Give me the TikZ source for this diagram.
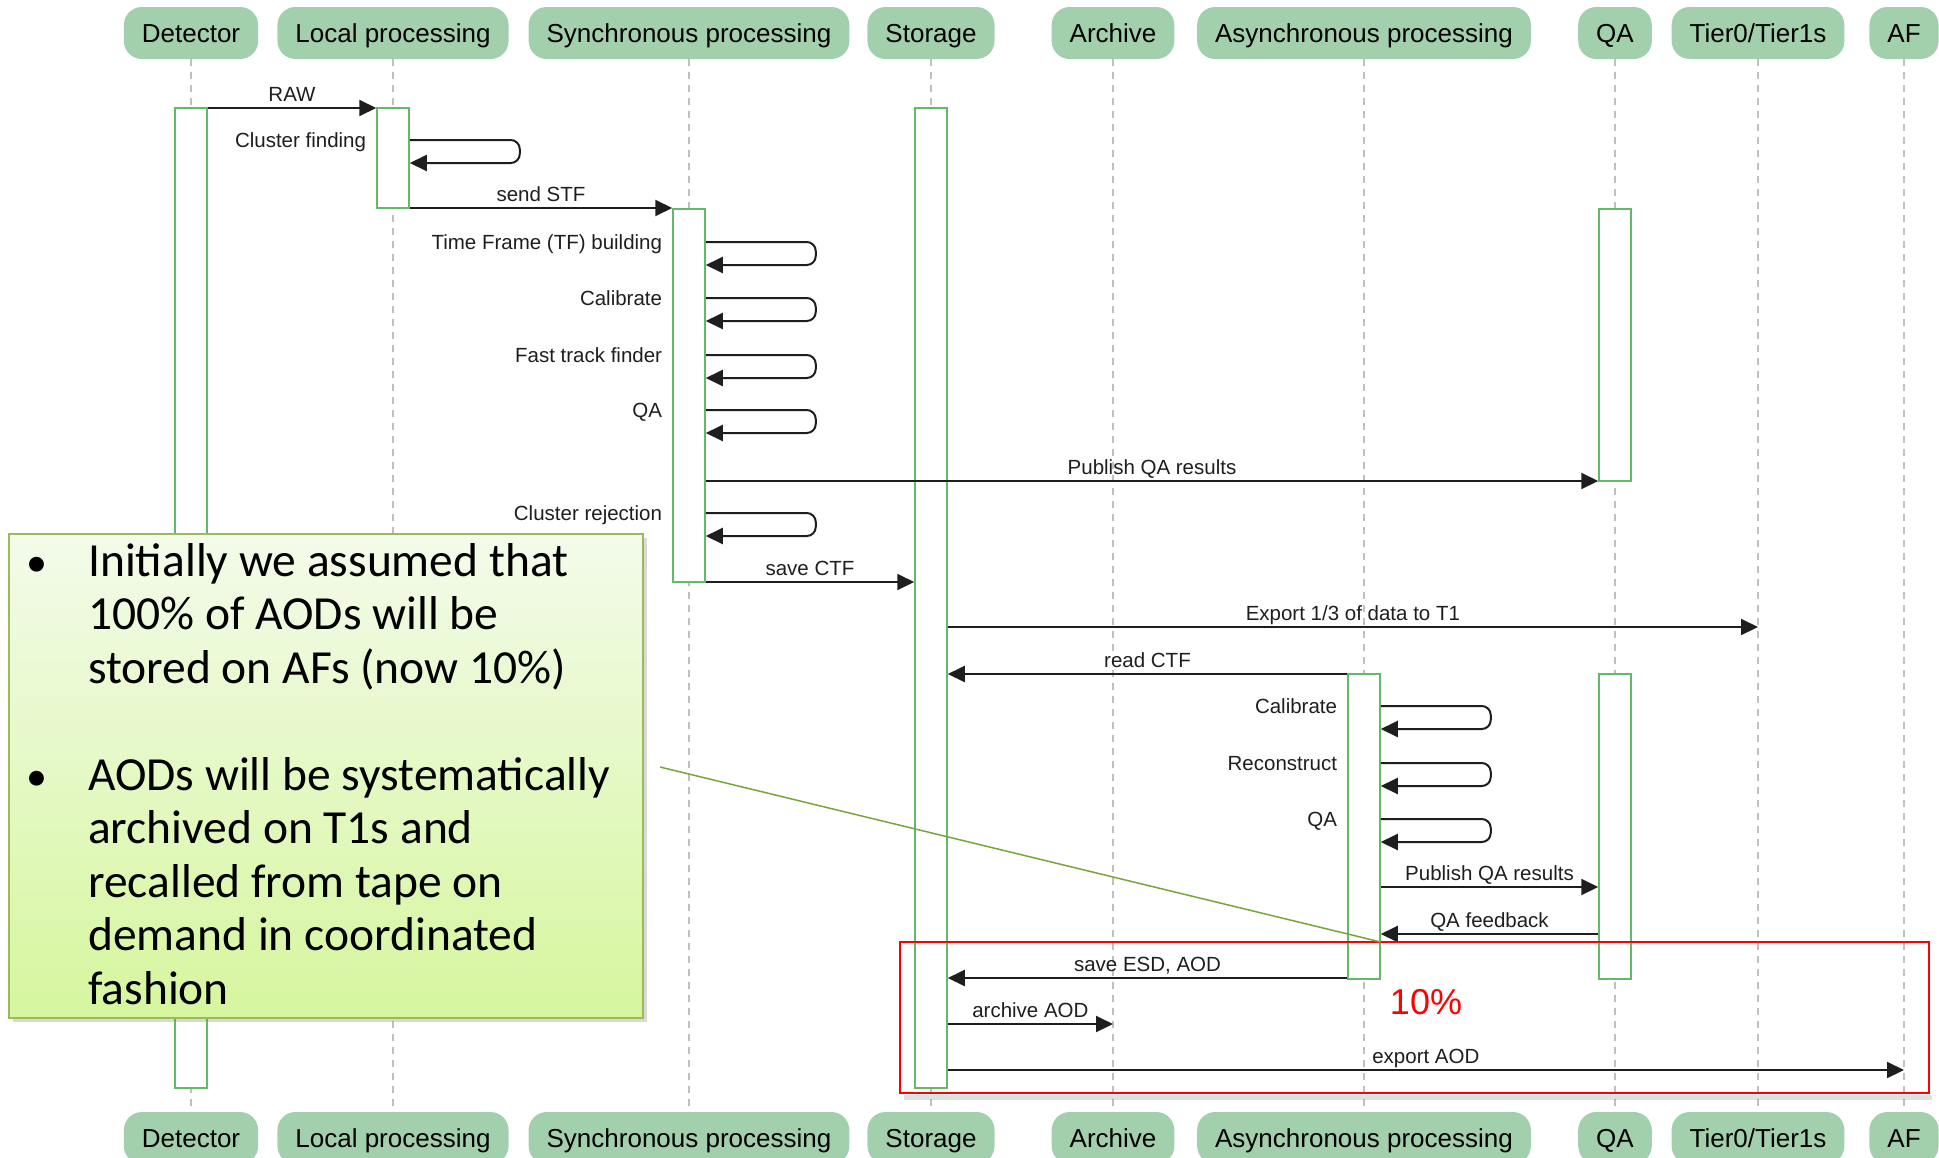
\documentclass[tikz,border=0pt]{standalone}
\usepackage{fontspec}
\setmainfont{Liberation Sans}
\newfontfamily\calibrifont{Carlito}
\usetikzlibrary{arrows.meta,shadows}
\definecolor{headfill}{RGB}{163,208,172}
\definecolor{actgreen}{RGB}{100,185,104}
\definecolor{lifegray}{RGB}{192,192,192}
\definecolor{msgcol}{RGB}{30,30,30}
\definecolor{calltop}{RGB}{243,251,234}
\definecolor{callbot}{RGB}{214,246,158}
\definecolor{callborder}{RGB}{155,187,89}
\definecolor{pointercol}{RGB}{118,166,58}
\begin{document}
\begin{tikzpicture}[x=1pt,y=-1pt,
  head/.style={fill=headfill, rounded corners=18pt, minimum height=52pt, inner xsep=18pt, inner ysep=0pt, text height=23pt, text depth=5pt, font=\fontsize{26}{30}\selectfont},
  life/.style={draw=lifegray, line width=1.2pt, dash pattern=on 7pt off 6pt},
  act/.style={draw=actgreen, fill=white, line width=1.5pt, minimum width=32pt, inner sep=0pt},
  msg/.style={draw=msgcol, line width=2pt, -{Triangle[length=17pt,width=16pt]}},
  selfloop/.style={msg, rounded corners=9pt},
  lbl/.style={font=\fontsize{20.5}{24}\selectfont, inner sep=0pt, text=msgcol},
  mlbl/.style={lbl, anchor=base, yshift=7pt},
  note/.style={font=\calibrifont\fontsize{47.5}{53.5}\selectfont, inner sep=0pt, anchor=base west},
  bullet/.style={font=\calibrifont\fontsize{42}{53.5}\selectfont, inner sep=0pt, anchor=base},
]
\useasboundingbox (0,0) rectangle (1939,1157);
\clip (0,0) rectangle (1939,1157);

% heads (top and bottom) and lifelines
\node[head] (hDet) at (191,33) {Detector};
\node[head] (hLoc) at (393,33) {Local processing};
\node[head] (hSyn) at (689,33) {Synchronous processing};
\node[head] (hSto) at (931,33) {Storage};
\node[head] (hArc) at (1113,33) {Archive};
\node[head] (hAsy) at (1364,33) {Asynchronous processing};
\node[head] (hQA)  at (1615,33) {QA};
\node[head] (hTie) at (1758,33) {Tier0/Tier1s};
\node[head] (hAF)  at (1904,33) {AF};
\node[head] (bDet) at (191,1138) {Detector};
\node[head] (bLoc) at (393,1138) {Local processing};
\node[head] (bSyn) at (689,1138) {Synchronous processing};
\node[head] (bSto) at (931,1138) {Storage};
\node[head] (bArc) at (1113,1138) {Archive};
\node[head] (bAsy) at (1364,1138) {Asynchronous processing};
\node[head] (bQA)  at (1615,1138) {QA};
\node[head] (bTie) at (1758,1138) {Tier0/Tier1s};
\node[head] (bAF)  at (1904,1138) {AF};
\foreach \n in {Det,Loc,Syn,Sto,Arc,Asy,QA,Tie,AF}{
  \draw[life] (h\n.south) -- (b\n.north);
}

% activation boxes
\node[act, minimum height=980pt] (aDet) at (191,598) {};
\node[act, minimum height=100pt] (aLoc) at (393,158) {};
\node[act, minimum height=373pt] (aSyn) at (689,395.5) {};
\node[act, minimum height=980pt] (aSto) at (931,598) {};
\node[act, minimum height=272pt] (aQA1) at (1615,345) {};
\node[act, minimum height=305pt] (aAsy) at (1364,826.5) {};
\node[act, minimum height=305pt] (aQA2) at (1615,826.5) {};

% messages
\draw[msg] (aDet.east |- 0,108) -- node[mlbl] {RAW} (aLoc.west |- 0,108);
\draw[selfloop] (aLoc.east |- 0,140) -- ++(110,0) -- ++(0,23) -- (aLoc.east |- 0,163);
\node[lbl, anchor=base east] (lCF) at ([xshift=-10pt]aLoc.west |- 0,147) {Cluster finding};
\draw[msg] (aLoc.east |- 0,208) -- node[mlbl] {send STF} (aSyn.west |- 0,208);

\draw[selfloop] (aSyn.east |- 0,242) -- ++(110,0) -- ++(0,23) -- (aSyn.east |- 0,265);
\node[lbl, anchor=base east] (lTF) at ([xshift=-10pt]aSyn.west |- 0,249) {Time Frame (TF) building};
\draw[selfloop] (aSyn.east |- 0,298) -- ++(110,0) -- ++(0,23) -- (aSyn.east |- 0,321);
\node[lbl, anchor=base east] (lCal) at ([xshift=-10pt]aSyn.west |- 0,305) {Calibrate};
\draw[selfloop] (aSyn.east |- 0,355) -- ++(110,0) -- ++(0,23) -- (aSyn.east |- 0,378);
\node[lbl, anchor=base east] (lFTF) at ([xshift=-10pt]aSyn.west |- 0,362) {Fast track finder};
\draw[selfloop] (aSyn.east |- 0,410) -- ++(110,0) -- ++(0,23) -- (aSyn.east |- 0,433);
\node[lbl, anchor=base east] (lQA) at ([xshift=-10pt]aSyn.west |- 0,417) {QA};
\draw[msg] (aSyn.east |- 0,481) -- node[mlbl] {Publish QA results} (aQA1.west |- 0,481);
\draw[selfloop] (aSyn.east |- 0,513) -- ++(110,0) -- ++(0,23) -- (aSyn.east |- 0,536);
\node[lbl, anchor=base east] (lCR) at ([xshift=-10pt]aSyn.west |- 0,520) {Cluster rejection};
\draw[msg] (aSyn.east |- 0,582) -- node[mlbl] {save CTF} (aSto.west |- 0,582);

\draw[msg] (aSto.east |- 0,627) -- node[mlbl] {Export 1/3 of data to T1} (hTie.south |- 0,627);
\draw[msg] (aAsy.west |- 0,674) -- node[mlbl] {read CTF} (aSto.east |- 0,674);

\draw[selfloop] (aAsy.east |- 0,706) -- ++(110,0) -- ++(0,23) -- (aAsy.east |- 0,729);
\node[lbl, anchor=base east] (lCal2) at ([xshift=-10pt]aAsy.west |- 0,713) {Calibrate};
\draw[selfloop] (aAsy.east |- 0,763) -- ++(110,0) -- ++(0,23) -- (aAsy.east |- 0,786);
\node[lbl, anchor=base east] (lRec) at ([xshift=-10pt]aAsy.west |- 0,770) {Reconstruct};
\draw[selfloop] (aAsy.east |- 0,819) -- ++(110,0) -- ++(0,23) -- (aAsy.east |- 0,842);
\node[lbl, anchor=base east] (lQA2) at ([xshift=-10pt]aAsy.west |- 0,826) {QA};
\draw[msg] (aAsy.east |- 0,887) -- node[mlbl] {Publish QA results} (aQA2.west |- 0,887);
\draw[msg] (aQA2.west |- 0,934) -- node[mlbl] {QA feedback} (aAsy.east |- 0,934);
\draw[msg] (aAsy.west |- 0,978) -- node[mlbl] {save ESD, AOD} (aSto.east |- 0,978);
\draw[msg] (aSto.east |- 0,1024) -- node[mlbl] {archive AOD} (hArc.south |- 0,1024);
\draw[msg] (aSto.east |- 0,1070) -- node[mlbl] {export AOD} (hAF.south |- 0,1070);

% red 10% box
\draw[black, opacity=0.12, line width=5pt] (904,1097) -- (1932,1097);
\node[draw=red, line width=1.6pt, minimum width=1029pt, minimum height=151pt, inner sep=0pt] (tenbox) at (1414.5,1017.5) {};
\node[text=red, font=\fontsize{36}{40}\selectfont, inner sep=0pt] (ten) at (1426,1002) {10\%};

% callout
\node[draw=callborder, line width=1.5pt, top color=calltop, bottom color=callbot, minimum width=634pt, minimum height=484pt, inner sep=0pt,
      drop shadow={opacity=0.3, shadow xshift=4pt, shadow yshift=-4pt}] (callout) at (326,776) {};
\coordinate (pstart) at (660,767);
\draw[pointercol, line width=1.5pt] (pstart) -- (aAsy.east |- 0,942);

\node[bullet] (b1) at (37,576) {•};
\node[note] (t1) at (88,576) {Initially we assumed that};
\node[note] (t2) at (88,629.5) {100\% of AODs will be};
\node[note] (t3) at (88,683) {stored on AFs (now 10\%)};
\node[bullet] (b2) at (37,790) {•};
\node[note] (t4) at (88,790) {AODs will be systematically};
\node[note] (t5) at (88,843.5) {archived on T1s and};
\node[note] (t6) at (88,897) {recalled from tape on};
\node[note] (t7) at (88,950.5) {demand in coordinated};
\node[note] (t8) at (88,1004) {fashion};
\end{tikzpicture}
\end{document}
